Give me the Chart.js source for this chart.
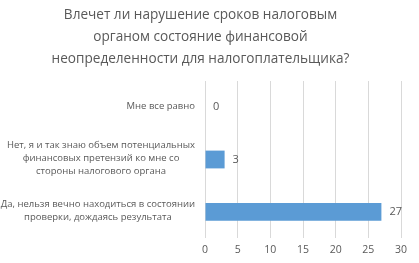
<!DOCTYPE html>
<html lang="ru">
<head>
  <meta charset="UTF-8" />
  <title>Нарушение сроков</title>
  <script src="https://cdn.jsdelivr.net/npm/chart.js"></script>
  <style>
    html, body {
      margin: 0;
      padding: 0;
      background: #ffffff;
    }
    #wrap {
      width: 419px;
      height: 263px;
    }
  </style>
</head>
<body>
  <div id="wrap"><canvas id="chart"></canvas></div>

  <script>
    const titleLines = [
      'Влечет ли нарушение сроков налоговым',
      'органом состояние финансовой',
      'неопределенности для налогоплательщика?'
    ];
    const categories = [
      ['Мне все равно'],
      ['Нет, я и так знаю объем потенциальных', 'финансовых претензий ко мне со', 'стороны налогового органа'],
      ['Да, нельзя вечно находиться в состоянии', 'проверки, дождаясь результата']
    ];
    const answers = [0, 3, 27];
    const xTicks = [0, 5, 10, 15, 20, 25, 30];

    const textColor = '#595959';
    const fontFamily = "'Open Sans', sans-serif";
    const labelFont = { family: fontFamily, size: 9.5 };

    // category labels: each block right-aligned to the axis, lines centred inside it
    const blockLabels = {
      id: 'blockLabels',
      afterDraw(chart) {
        const y = chart.scales.y;
        const ctx = chart.ctx;
        ctx.save();
        ctx.font = labelFont.size + 'px ' + fontFamily;
        ctx.fillStyle = textColor;
        ctx.textAlign = 'center';
        ctx.textBaseline = 'middle';
        const lineH = 13;
        categories.forEach((lines, i) => {
          const cy = y.getPixelForTick(i) - 1;
          const widest = Math.max(...lines.map(l => ctx.measureText(l).width));
          const cx = y.right - 10 - widest / 2;
          const top = cy - (lines.length - 1) * lineH / 2;
          lines.forEach((l, k) => ctx.fillText(l, cx, top + k * lineH));
        });
        ctx.restore();
      }
    };

    // value labels at bar ends
    const valueLabels = {
      id: 'valueLabels',
      afterDatasetsDraw(chart) {
        const ctx = chart.ctx;
        const meta = chart.getDatasetMeta(0);
        ctx.save();
        ctx.font = '11px ' + fontFamily;
        ctx.fillStyle = textColor;
        ctx.textAlign = 'left';
        ctx.textBaseline = 'middle';
        meta.data.forEach((bar, i) => {
          ctx.fillText(String(answers[i]), bar.x + 8, bar.y);
        });
        ctx.restore();
      }
    };

    new Chart(document.getElementById('chart'), {
      type: 'bar',
      data: {
        labels: categories,
        datasets: [{
          data: answers,
          backgroundColor: '#5b9bd5',
          borderWidth: 0,
          barPercentage: 0.5,
          categoryPercentage: 0.68
        }]
      },
      options: {
        indexAxis: 'y',
        responsive: true,
        maintainAspectRatio: false,
        animation: false,
        layout: { padding: { left: 0, right: 18, top: 0, bottom: 0 } },
        plugins: {
          legend: { display: false },
          tooltip: { enabled: false },
          title: {
            display: true,
            text: titleLines,
            color: textColor,
            font: { family: fontFamily, size: 13.6, weight: 'normal', lineHeight: 22 / 13.6 },
            padding: { top: 4, bottom: 11 }
          }
        },
        scales: {
          x: {
            min: 0,
            max: 30,
            afterBuildTicks(scale) {
              scale.ticks = xTicks.map(v => ({ value: v }));
            },
            afterFit(scale) { scale.height = 25; },
            grid: { color: '#d9d9d9', drawTicks: false },
            border: { display: false },
            ticks: { color: textColor, font: { family: fontFamily, size: 10.5 }, padding: 6 }
          },
          y: {
            afterFit(scale) { scale.width = 205; },
            grid: { display: false },
            border: { display: false },
            ticks: { color: 'rgba(0,0,0,0)', font: labelFont, padding: 9 }
          }
        }
      },
      plugins: [blockLabels, valueLabels]
    });
  </script>
</body>
</html>
